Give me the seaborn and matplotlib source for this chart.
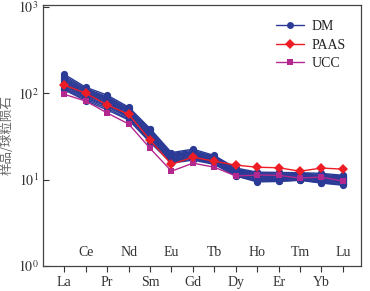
import matplotlib
matplotlib.use("Agg")
import matplotlib.pyplot as plt
from matplotlib.lines import Line2D
import seaborn as sns
import pandas as pd

elements = ["La", "Ce", "Pr", "Nd", "Sm", "Eu", "Gd", "Tb", "Dy", "Ho", "Er", "Tm", "Yb", "Lu"]

paas = [124, 100, 73, 57, 28.7, 15.0, 18.2, 16.3, 14.7, 13.9, 13.7, 12.5, 13.6, 13.2]
ucc = [97, 81, 59, 44, 23, 12.5, 15.5, 13.9, 11.0, 11.3, 11.2, 10.4, 10.7, 9.6]

dm_1 = [165, 117, 95, 69, 39, 20.5, 22.5, 19.0, 13.6, 12.2, 12.1, 12.0, 11.8, 11.2]
dm_2 = [158, 113, 91, 67, 38, 20.0, 21.8, 18.5, 13.3, 11.9, 11.9, 11.8, 11.5, 11.0]
dm_3 = [152, 110, 89, 65, 37, 19.5, 21.2, 18.2, 13.1, 11.7, 11.6, 11.6, 11.2, 10.8]
dm_4 = [147, 107, 87, 63, 36, 19.2, 20.8, 17.8, 12.9, 11.5, 11.4, 11.4, 11.0, 10.6]
dm_5 = [143, 105, 85, 62, 35, 18.8, 20.4, 17.5, 12.7, 11.3, 11.2, 11.2, 10.8, 10.4]
dm_6 = [139, 102, 83, 60, 34, 18.5, 20.0, 17.2, 12.5, 11.1, 11.0, 11.0, 10.6, 10.2]
dm_7 = [135, 100, 81, 59, 33, 18.0, 19.6, 16.9, 12.3, 10.9, 10.8, 10.9, 10.4, 10.0]
dm_8 = [131, 98, 79, 57, 32, 17.6, 19.2, 16.6, 12.1, 10.7, 10.6, 10.7, 10.2, 9.8]
dm_9 = [128, 95, 77, 56, 31, 17.2, 18.8, 16.3, 11.9, 10.5, 10.4, 10.5, 10.0, 9.6]
dm_10 = [124, 93, 75, 54, 30, 16.8, 18.4, 16.0, 11.7, 10.3, 10.2, 10.4, 9.8, 9.4]
dm_11 = [120, 90, 72, 53, 29.5, 16.5, 18.0, 15.7, 11.5, 10.0, 10.0, 10.2, 9.6, 9.2]
dm_12 = [116, 88, 70, 52, 28.5, 16.2, 17.6, 15.4, 11.3, 9.8, 9.8, 10.0, 9.4, 9.0]
dm_13 = [112, 85, 67, 50, 27.5, 15.8, 17.2, 15.2, 11.1, 9.6, 9.6, 9.9, 9.2, 8.8]
dm_14 = [109, 82, 64, 49, 27.0, 15.5, 16.8, 15.0, 11.0, 9.4, 9.5, 9.8, 9.1, 8.6]
dm_samples = [dm_1, dm_2, dm_3, dm_4, dm_5, dm_6, dm_7, dm_8, dm_9, dm_10,
              dm_11, dm_12, dm_13, dm_14]

legend_labels = ["DM", "PAAS", "UCC"]
ytick_vals = [1, 10, 100, 1000]
ytick_labels = ["$10^{0}$", "$10^{1}$", "$10^{2}$", "$10^{3}$"]

BLUE = "#2b3a96"
RED = "#ee1c25"
MAG = "#b3288f"

sns.set_theme(style="white")
plt.rcParams["font.family"] = ["Liberation Serif", "DejaVu Serif"]
plt.rcParams["mathtext.fontset"] = "stix"

rows = []
for s, vals in enumerate(dm_samples):
    for i, v in enumerate(vals):
        rows.append({"sample": s, "x": i, "value": v})
df_dm = pd.DataFrame(rows)
df_paas = pd.DataFrame({"x": range(len(elements)), "value": paas})
df_ucc = pd.DataFrame({"x": range(len(elements)), "value": ucc})

fig = plt.figure(figsize=(3.7, 2.91), dpi=100)
ax = fig.add_axes([0.116, 0.086, 0.86, 0.897])

sns.lineplot(data=df_dm, x="x", y="value", units="sample", estimator=None,
             color=BLUE, marker="o", markersize=5.2, markeredgewidth=0,
             linewidth=1.0, ax=ax, legend=False, zorder=2)
sns.lineplot(data=df_ucc, x="x", y="value", color=MAG, marker="s",
             markersize=4.5, markeredgewidth=0, linewidth=1.0, ax=ax,
             legend=False, zorder=3)
sns.lineplot(data=df_paas, x="x", y="value", color=RED, marker="D",
             markersize=5, markeredgewidth=0, linewidth=1.0, ax=ax,
             legend=False, zorder=4)

ax.set_yscale("log")
ax.set_ylim(1, 1050)
ax.set_xlim(-1, 13.85)
ax.set_yticks(ytick_vals)
ax.set_yticklabels(ytick_labels)
ax.yaxis.set_minor_locator(matplotlib.ticker.NullLocator())
ax.tick_params(axis="y", direction="in", length=4, width=0.8, labelsize=10,
               pad=3, colors="#333333", left=True)

ax.set_xticks(range(len(elements)))
ax.set_xticklabels([e if i % 2 == 0 else "" for i, e in enumerate(elements)])
ax.tick_params(axis="x", direction="out", length=4, width=0.8, labelsize=10,
               pad=3, colors="#333333", bottom=True)
for i, e in enumerate(elements):
    if i % 2 == 1:
        ax.text(i, 1.42, e, ha="center", va="center", fontsize=10, color="#333333")

ax.set_xlabel("")
ax.set_ylabel("样品/球粒陨石", family=["Noto Sans CJK SC", "DejaVu Sans"],
              fontsize=9, color="#666666", labelpad=3)

for sp in ax.spines.values():
    sp.set_color("#444444")
    sp.set_linewidth(0.9)
    sp.set_visible(True)

handles = [
    Line2D([], [], color=BLUE, marker="o", markersize=5, markeredgewidth=0, linewidth=1.0),
    Line2D([], [], color=RED, marker="D", markersize=5, markeredgewidth=0, linewidth=1.0),
    Line2D([], [], color=MAG, marker="s", markersize=4.5, markeredgewidth=0, linewidth=1.0),
]
ax.legend(handles, legend_labels, loc="upper right", frameon=False, fontsize=10,
          handlelength=2.0, handletextpad=0.5, labelspacing=0.4,
          bbox_to_anchor=(0.99, 0.99), labelcolor="#222222")

fig.savefig("out.png", dpi=100)
